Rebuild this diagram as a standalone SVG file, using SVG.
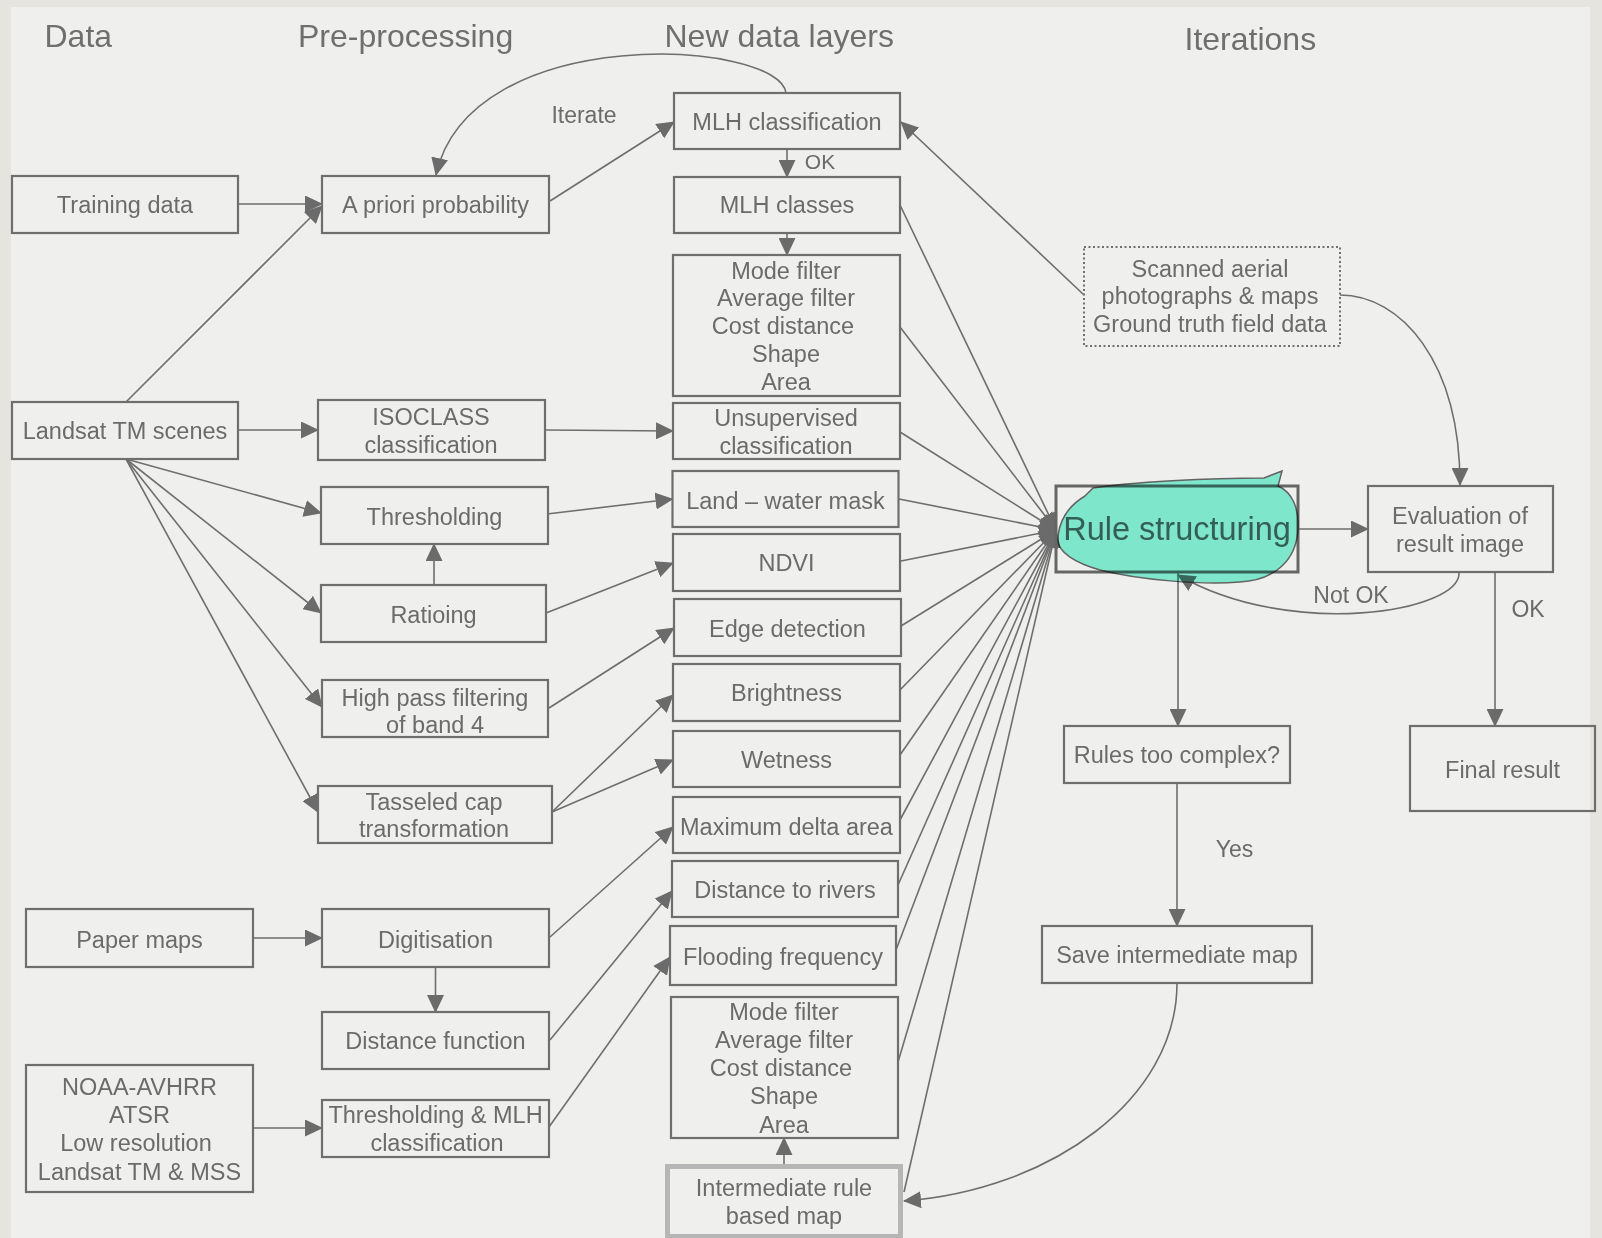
<svg xmlns="http://www.w3.org/2000/svg" width="1602" height="1238" viewBox="0 0 1602 1238">
  <defs>
    <marker id="ah" markerUnits="userSpaceOnUse" markerWidth="19" markerHeight="17" refX="17" refY="8.5" orient="auto">
      <path d="M0,0 L18,8.5 L0,17 Z" fill="#6b6b6b"/>
    </marker>
    <style>
      .box { fill: none; stroke: #6e6e6e; stroke-width: 2.2; }
      .t { font-family: "Liberation Sans", Arial, sans-serif; font-size: 23.5px; fill: #6b6b6b; text-anchor: middle; }
      .h { font-family: "Liberation Sans", Arial, sans-serif; font-size: 32px; fill: #6f6f6f; }
      .lbl { font-family: "Liberation Sans", Arial, sans-serif; font-size: 23px; fill: #6b6b6b; text-anchor: middle; }
      .c { fill: none; stroke: #6e6e6e; stroke-width: 1.6; marker-end: url(#ah); }
      .cl { fill: none; stroke: #6e6e6e; stroke-width: 1.6; }
    </style>
  </defs>

  <!-- page frame and panel -->
  <rect x="0" y="0" width="1602" height="1238" fill="#e6e4df"/>
  <rect x="11" y="7" width="1579" height="1231" fill="#efefed"/>

  <!-- column headings -->
  <g id="headings">
    <text class="h" x="44.5" y="47">Data</text>
    <text class="h" x="298" y="47">Pre-processing</text>
    <text class="h" x="664.5" y="47">New data layers</text>
    <text class="h" x="1184.5" y="50">Iterations</text>
  </g>

  <!-- connectors -->
  <g id="connectors">
    <path class="c" d="M238,204 L322,204"/>
    <path class="c" d="M126,402 L322,206"/>
    <path class="c" d="M238,430 L318,430"/>
    <path class="c" d="M126,459 L321,513"/>
    <path class="c" d="M126,459 L321,613"/>
    <path class="c" d="M126,459 L322,707"/>
    <path class="c" d="M126,459 L318,812"/>
    <path class="c" d="M434,585 L434,544"/>
    <path class="c" d="M550,201 L674,122"/>
    <path class="c" d="M786,93 C780,40 470,20 436,175"/>
    <path class="c" d="M787,149 L787,177"/>
    <path class="c" d="M787,233 L787,255"/>
    <path class="c" d="M545,430 L673,431"/>
    <path class="c" d="M547,514 L672.5,499"/>
    <path class="c" d="M546,613 L673,563"/>
    <path class="c" d="M549,708 L674,628"/>
    <path class="c" d="M552,812 L673,695"/>
    <path class="c" d="M552,812 L673,760"/>
    <path class="c" d="M550,937 L673,827"/>
    <path class="c" d="M550,1040 L672,891"/>
    <path class="c" d="M549,1127 L670,957"/>
    <path class="c" d="M253,938 L322,938"/>
    <path class="c" d="M435.5,967 L435.5,1012"/>
    <path class="c" d="M253,1128 L322,1128"/>
    <path class="c" d="M784,1164 L784,1138"/>

    <!-- layers feeding rule structuring -->
    <path class="c" d="M900,205 L1056,530"/>
    <path class="c" d="M900,327 L1056,530"/>
    <path class="c" d="M900,432 L1056,530"/>
    <path class="c" d="M899,499 L1056,530"/>
    <path class="c" d="M901,561 L1056,530"/>
    <path class="c" d="M901,626 L1056,530"/>
    <path class="c" d="M900,690 L1056,530"/>
    <path class="c" d="M900,755 L1056,530"/>
    <path class="c" d="M900,820 L1056,530"/>
    <path class="c" d="M898,885 L1056,530"/>
    <path class="c" d="M896,950 L1056,530"/>
    <path class="c" d="M898,1062 L1056,530"/>
    <path class="c" d="M904,1192 L1056,530"/>

    <!-- iteration loop -->
    <path class="c" d="M1084,295 L901,122"/>
    <path class="c" d="M1340,295 C1400,295 1460,360 1460,485"/>
    <path class="c" d="M1298,529 L1368,529"/>
    <path class="c" d="M1459,572 C1462,612 1290,640 1178,575"/>
    <path class="c" d="M1178,572 L1178,726"/>
    <path class="c" d="M1495,572 L1495,726"/>
    <path class="c" d="M1177,783 L1177,926"/>
    <path class="c" d="M1177,983 C1177,1100 1050,1190 904,1201"/>
  </g>

  <!-- connector labels -->
  <g id="labels">
    <text class="lbl" x="584" y="123">Iterate</text>
    <text class="lbl" x="820" y="169" style="font-size:21px">OK</text>
    <text class="lbl" x="1351" y="603">Not OK</text>
    <text class="lbl" x="1528" y="617">OK</text>
    <text class="lbl" x="1234.5" y="857">Yes</text>
  </g>

  <!-- data column -->
  <g id="training-data">
    <rect class="box" x="12" y="176" width="226" height="57"/>
    <text class="t" x="125" y="213">Training data</text>
  </g>
  <g id="landsat-tm-scenes">
    <rect class="box" x="12" y="402" width="226" height="57"/>
    <text class="t" x="125" y="438.5">Landsat TM scenes</text>
  </g>
  <g id="paper-maps">
    <rect class="box" x="26" y="909" width="227" height="58"/>
    <text class="t" x="139.5" y="947.5">Paper maps</text>
  </g>
  <g id="noaa-avhrr">
    <rect class="box" x="26" y="1065" width="227" height="127"/>
    <text class="t" x="139.5" y="1095">NOAA-AVHRR</text>
    <text class="t" x="139.5" y="1123">ATSR</text>
    <text class="t" x="136" y="1151">Low resolution</text>
    <text class="t" x="139.5" y="1179.5">Landsat TM &amp; MSS</text>
  </g>

  <!-- pre-processing column -->
  <g id="a-priori-probability">
    <rect class="box" x="322" y="176" width="227" height="57"/>
    <text class="t" x="435.5" y="213">A priori probability</text>
  </g>
  <g id="isoclass">
    <rect class="box" x="318" y="400" width="227" height="60"/>
    <text class="t" x="431" y="425">ISOCLASS</text>
    <text class="t" x="431" y="453">classification</text>
  </g>
  <g id="thresholding">
    <rect class="box" x="321" y="487" width="227" height="57"/>
    <text class="t" x="434.5" y="525">Thresholding</text>
  </g>
  <g id="ratioing">
    <rect class="box" x="321" y="585" width="225" height="57"/>
    <text class="t" x="433.5" y="622.5">Ratioing</text>
  </g>
  <g id="high-pass-filtering">
    <rect class="box" x="322" y="680" width="226" height="57"/>
    <text class="t" x="435" y="705.5">High pass filtering</text>
    <text class="t" x="435" y="732.5">of band 4</text>
  </g>
  <g id="tasseled-cap">
    <rect class="box" x="318" y="786" width="234" height="57"/>
    <text class="t" x="434" y="810">Tasseled cap</text>
    <text class="t" x="434" y="837">transformation</text>
  </g>
  <g id="digitisation">
    <rect class="box" x="322" y="909" width="227" height="58"/>
    <text class="t" x="435.5" y="947.5">Digitisation</text>
  </g>
  <g id="distance-function">
    <rect class="box" x="322" y="1012" width="227" height="57"/>
    <text class="t" x="435.5" y="1049">Distance function</text>
  </g>
  <g id="thresholding-mlh">
    <rect class="box" x="322" y="1100" width="227" height="57"/>
    <text class="t" x="435.5" y="1123">Thresholding &amp; MLH</text>
    <text class="t" x="437" y="1151">classification</text>
  </g>

  <!-- new data layers column -->
  <g id="mlh-classification">
    <rect class="box" x="674" y="93" width="226" height="56"/>
    <text class="t" x="787" y="130">MLH classification</text>
  </g>
  <g id="mlh-classes">
    <rect class="box" x="674" y="177" width="226" height="56"/>
    <text class="t" x="787" y="213">MLH classes</text>
  </g>
  <g id="filters-1">
    <rect class="box" x="673" y="255" width="227" height="141"/>
    <text class="t" x="786" y="278.5">Mode filter</text>
    <text class="t" x="786" y="306">Average filter</text>
    <text class="t" x="783" y="333.5">Cost distance</text>
    <text class="t" x="786" y="362">Shape</text>
    <text class="t" x="786" y="390">Area</text>
  </g>
  <g id="unsupervised-classification">
    <rect class="box" x="673" y="403" width="227" height="56"/>
    <text class="t" x="786" y="426">Unsupervised</text>
    <text class="t" x="786" y="453.5">classification</text>
  </g>
  <g id="land-water-mask">
    <rect class="box" x="672.5" y="471" width="226" height="56"/>
    <text class="t" x="785.5" y="508.5">Land – water mask</text>
  </g>
  <g id="ndvi">
    <rect class="box" x="673" y="534" width="227" height="57"/>
    <text class="t" x="786.5" y="571">NDVI</text>
  </g>
  <g id="edge-detection">
    <rect class="box" x="674" y="599" width="227" height="57"/>
    <text class="t" x="787.5" y="636.5">Edge detection</text>
  </g>
  <g id="brightness">
    <rect class="box" x="673" y="664" width="227" height="57"/>
    <text class="t" x="786.5" y="701">Brightness</text>
  </g>
  <g id="wetness">
    <rect class="box" x="673" y="731" width="227" height="56"/>
    <text class="t" x="786.5" y="767.5">Wetness</text>
  </g>
  <g id="maximum-delta-area">
    <rect class="box" x="673" y="797" width="227" height="56"/>
    <text class="t" x="786.5" y="834.5">Maximum delta area</text>
  </g>
  <g id="distance-to-rivers">
    <rect class="box" x="672" y="861" width="226" height="56"/>
    <text class="t" x="785" y="898">Distance to rivers</text>
  </g>
  <g id="flooding-frequency">
    <rect class="box" x="670" y="926" width="226" height="59"/>
    <text class="t" x="783" y="964.5">Flooding frequency</text>
  </g>
  <g id="filters-2">
    <rect class="box" x="671" y="997" width="227" height="141"/>
    <text class="t" x="784" y="1020">Mode filter</text>
    <text class="t" x="784" y="1048">Average filter</text>
    <text class="t" x="781" y="1076">Cost distance</text>
    <text class="t" x="784" y="1104">Shape</text>
    <text class="t" x="784" y="1132.5">Area</text>
  </g>
  <g id="intermediate-map">
    <rect x="667.5" y="1166.5" width="233" height="70" fill="none" stroke="#b6b6b6" stroke-width="5"/>
    <text class="t" x="784" y="1196">Intermediate rule</text>
    <text class="t" x="784" y="1224">based map</text>
  </g>

  <!-- iterations column -->
  <g id="scanned-photographs">
    <rect x="1084" y="247" width="256" height="99" fill="none" stroke="#707070" stroke-width="2" stroke-dasharray="2,2.5"/>
    <text class="t" x="1210" y="276.5">Scanned aerial</text>
    <text class="t" x="1210" y="304">photographs &amp; maps</text>
    <text class="t" x="1210" y="331.5">Ground truth field data</text>
  </g>
  <g id="rule-structuring">
    <rect x="1056" y="486" width="242" height="86" fill="none" stroke="#666" stroke-width="3"/>
    <text class="t" x="1177" y="540" style="font-size:32.5px;fill:#626262">Rule structuring</text>
    <path d="M1093,488 C1130,482 1210,478 1264,478 L1282,471 L1278,486 C1292,492 1299,508 1298,528 C1297,560 1275,580 1240,582 C1200,585 1140,580 1100,570 C1075,563 1058,552 1058,540 C1058,522 1068,506 1085,496 L1093,488 Z" fill="#86f6db" stroke="#6a6a6a" stroke-width="1.5" style="mix-blend-mode:multiply"/>
  </g>
  <g id="evaluation">
    <rect class="box" x="1368" y="486" width="185" height="86"/>
    <text class="t" x="1460" y="523.5">Evaluation of</text>
    <text class="t" x="1460" y="551.5">result image</text>
  </g>
  <g id="rules-too-complex">
    <rect class="box" x="1064" y="726" width="226" height="57"/>
    <text class="t" x="1177" y="763">Rules too complex?</text>
  </g>
  <g id="final-result">
    <rect class="box" x="1410" y="726" width="185" height="85"/>
    <text class="t" x="1502.5" y="778">Final result</text>
  </g>
  <g id="save-intermediate-map">
    <rect class="box" x="1042" y="926" width="270" height="57"/>
    <text class="t" x="1177" y="963">Save intermediate map</text>
  </g>
</svg>
